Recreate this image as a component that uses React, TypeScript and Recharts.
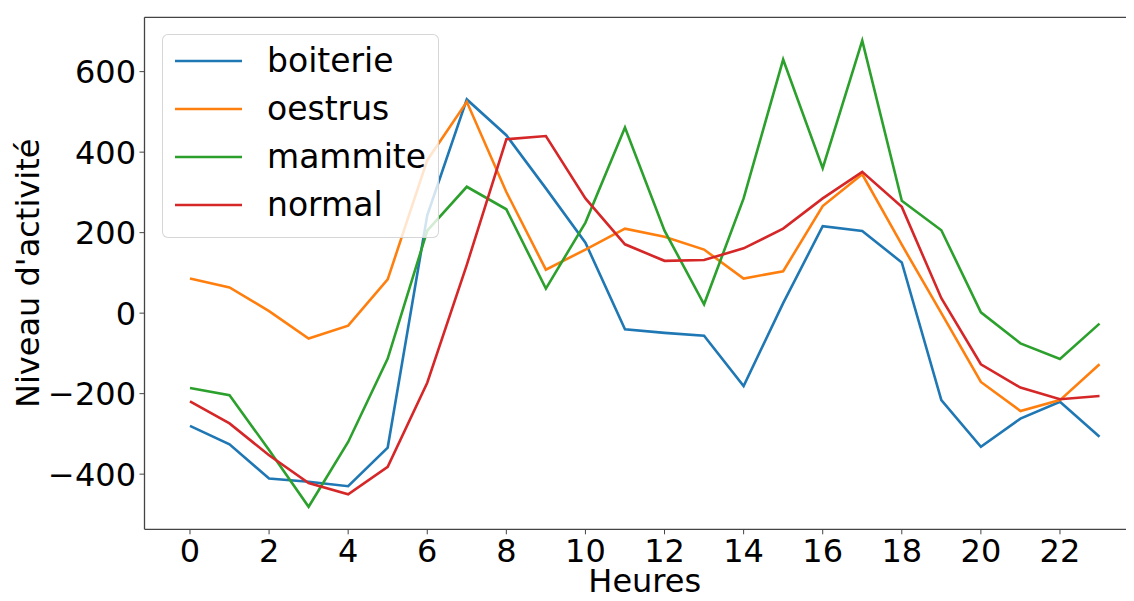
import React from "react";
import {
  LineChart, Line, XAxis, YAxis, Legend, ReferenceLine,
} from "recharts";

const hours = [0, 1, 2, 3, 4, 5, 6, 7, 8, 9, 10, 11, 12, 13, 14, 15, 16, 17, 18, 19, 20, 21, 22, 23];

const boiterie = [-280, -326, -411, -419, -430, -334, 243, 531, 442, 310, 175, -40, -49, -56, -181, 25, 216, 204, 126, -216, -332, -262, -220, -307];
const oestrus = [86, 64, 5, -63, -31, 84, 380, 525, 301, 108, 158, 210, 190, 158, 86, 104, 266, 345, 170, 0, -171, -243, -216, -127];
const mammite = [-186, -204, -340, -481, -320, -113, 205, 314, 258, 61, 225, 461, 205, 22, 285, 630, 360, 677, 279, 206, 2, -75, -114, -26];
const normal = [-219, -274, -353, -422, -450, -382, -173, 120, 432, 440, 285, 171, 130, 132, 161, 210, 285, 351, 264, 37, -127, -185, -214, -206];

const xTicks = [0, 2, 4, 6, 8, 10, 12, 14, 16, 18, 20, 22];
const yTicks = [-400, -200, 0, 200, 400, 600];

const seriesNames = ["boiterie", "oestrus", "mammite", "normal"];
const seriesColors = ["#1f77b4", "#ff7f0e", "#2ca02c", "#d62728"];
const seriesValues = [boiterie, oestrus, mammite, normal];

const data = hours.map((h, i) => {
  const row: any = { h };
  seriesNames.forEach((name, k) => {
    row[name] = seriesValues[k][i];
  });
  return row;
});

const FONT = "'DejaVu Sans', sans-serif";
const X_DOMAIN = [-1.15, 24.15];
const Y_DOMAIN = [-537, 735];

const LegendBox = () => (
  <div
    style={{
      width: 275,
      height: 202,
      border: "1px solid rgba(204,204,204,0.8)",
      borderRadius: 6,
      background: "rgba(255,255,255,0.8)",
      fontFamily: FONT,
      fontSize: 33,
      color: "#000",
      position: "relative",
    }}
  >
    {seriesNames.map((name, i) => (
      <div
        key={name}
        style={{
          position: "absolute",
          left: 0,
          top: 2 + i * 48.1,
          height: 48,
          display: "flex",
          alignItems: "center",
          whiteSpace: "nowrap",
        }}
      >
        <svg width={80} height={10} style={{ marginLeft: 12 }}>
          <line x1={0} y1={5} x2={67} y2={5} stroke={seriesColors[i]} strokeWidth={2.6} />
        </svg>
        <span style={{ marginLeft: 12, lineHeight: "48px" }}>{name}</span>
      </div>
    ))}
  </div>
);

const fmtY = (v: number) => String(v).replace("-", "\u2212");

export default function App() {
  return (
    <div style={{ margin: -8, width: 1134, height: 601, overflow: "hidden", position: "relative", background: "#fff" }}>
      <LineChart
        width={1160}
        height={601}
        data={data}
        margin={{ top: 17.3, right: 15, bottom: 0, left: 0 }}
      >
        <XAxis
          dataKey="h"
          type="number"
          domain={X_DOMAIN}
          allowDataOverflow
          ticks={xTicks}
          interval={0}
          height={71.7}
          tickSize={5}
          tickMargin={5}
          axisLine={{ stroke: "#444", strokeWidth: 1.3 }}
          tickLine={{ stroke: "#444", strokeWidth: 1 }}
          tick={{ fill: "#000", fontSize: 32, fontFamily: FONT }}
          label={{ value: "Heures", position: "insideBottom", offset: 9, fill: "#000", fontSize: 32, fontFamily: FONT }}
        />
        <YAxis
          type="number"
          domain={Y_DOMAIN}
          allowDataOverflow
          ticks={yTicks}
          interval={0}
          width={144.5}
          tickSize={5}
          tickMargin={3.5}
          tickFormatter={fmtY}
          axisLine={{ stroke: "#444", strokeWidth: 1.3 }}
          tickLine={{ stroke: "#444", strokeWidth: 1 }}
          tick={{ fill: "#000", fontSize: 32, fontFamily: FONT }}
          label={{
            value: "Niveau d'activité",
            angle: -90,
            position: "insideLeft",
            offset: 28,
            fill: "#000",
            fontSize: 32,
            fontFamily: FONT,
            style: { textAnchor: "middle" },
          }}
        />
        <ReferenceLine y={Y_DOMAIN[1]} stroke="#444" strokeWidth={1.3} ifOverflow="extendDomain" />
        {seriesNames.map((name, i) => (
          <Line
            key={name}
            type="linear"
            dataKey={name}
            stroke={seriesColors[i]}
            strokeWidth={2.6}
            dot={false}
            activeDot={false}
            isAnimationActive={false}
          />
        ))}
        <Legend
          layout="vertical"
          align="center"
          verticalAlign="middle"
          wrapperStyle={{ left: 162, top: 34, width: 277, height: 204 }}
          content={() => <LegendBox />}
        />
      </LineChart>
    </div>
  );
}
